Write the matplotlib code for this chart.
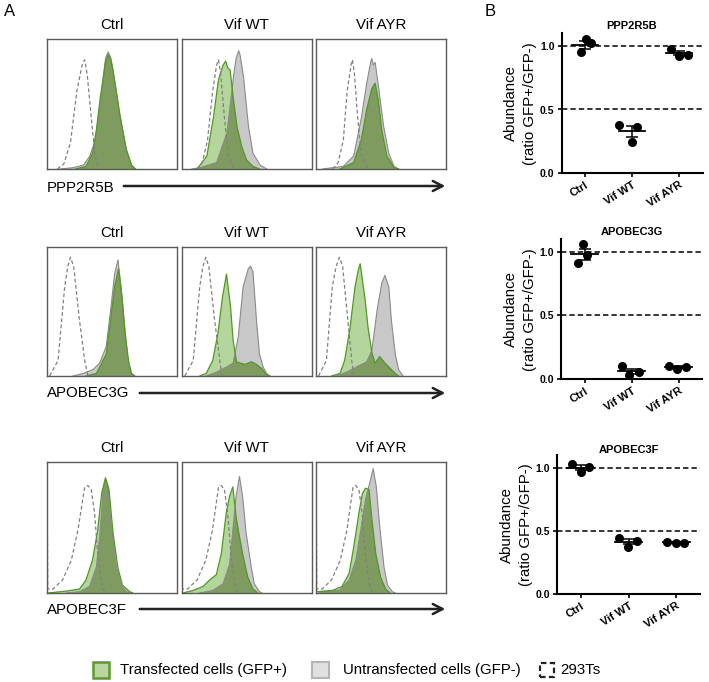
import numpy as np
import matplotlib.pyplot as plt
from matplotlib.patches import Rectangle, Polygon, FancyArrowPatch
from matplotlib.transforms import ScaledTranslation

plt.rcParams['font.family'] = ['Liberation Sans', 'DejaVu Sans']

# ---- panel A: flow histograms, (x, height) (0-100 scale)
conditions = ['Ctrl', 'Vif WT', 'Vif AYR']
proteins = ['PPP2R5B', 'APOBEC3G', 'APOBEC3F']

ppp_ctrl = {
    'dashed': ([8, 13, 18, 23, 27, 29, 31, 34, 37, 40], [0, 4, 20, 60, 80, 84, 72, 40, 10, 0]),
    'gray': ([10, 20, 28, 33, 37, 41, 43.5, 45, 47, 49, 50.5, 52, 56, 61, 65, 68],
             [0, 1, 3, 10, 22, 50, 72, 85, 90, 86, 78, 68, 42, 15, 3, 0]),
    'green': ([22, 30, 35, 38, 41, 43.5, 45, 47, 49, 50.5, 52, 56, 61, 65, 68],
              [0, 2, 12, 30, 55, 72, 82, 88, 84, 77, 68, 42, 15, 3, 0]),
}
ppp_wt = {
    'dashed': ([12, 16, 20, 24, 27, 28.5, 30, 33, 36, 40], [0, 5, 22, 60, 80, 84, 74, 40, 10, 0]),
    'gray': ([8, 14, 27, 35, 40, 42, 44, 45, 47.7, 51.5, 55, 60.5, 65.6],
             [0, 1, 5, 28, 71, 85, 91, 88, 71, 33, 12, 3, 0]),
    'green': ([12, 19.5, 24.6, 28.5, 32, 34, 35.5, 37.4, 40, 42.6, 46.4, 50, 55, 60],
              [0, 10, 40, 69, 80, 83, 78, 76, 53, 33, 17, 7, 2, 0]),
}
ppp_ayr = {
    'dashed': ([13, 17, 21, 24, 27, 28, 29.5, 32, 35, 40], [0, 5, 22, 60, 80, 84, 74, 40, 10, 0]),
    'gray': ([5, 21, 29, 35, 39, 42, 43, 44, 45.5, 48, 52, 56, 60, 63.5],
             [0, 2, 10, 40, 66, 82, 85, 80, 82, 64, 33, 12, 2, 0]),
    'green': ([18.5, 29, 35, 39, 43, 45.5, 48, 50.6, 54.5, 60, 63.5],
              [0, 5, 23, 46, 62, 66, 53, 30, 10, 1, 0]),
}
a3g_ctrl = {
    'dashed': ([2, 8.5, 13.6, 16, 18, 20.5, 25, 29, 31.5], [0, 12, 69, 85, 92, 85, 43, 12, 0]),
    'gray': ([20, 27.7, 35.4, 40.5, 45.6, 49.5, 52, 54.6, 57, 60, 62.3, 65, 67.4],
             [0, 2, 5, 10, 23, 56, 79, 90, 69, 36, 12, 2, 0]),
    'green': ([30, 38, 45.6, 49.5, 52, 55, 57.7, 60, 63, 65, 67.4],
              [0, 2, 17, 48, 69, 83, 61, 33, 10, 2, 0]),
}
a3g_wt = {
    'dashed': ([2.5, 9, 14, 16.5, 18.7, 21, 25.5, 29.5, 31], [0, 12, 69, 85, 92, 85, 43, 12, 0]),
    'gray': ([19, 27, 34.6, 39.7, 43.6, 47.4, 51.3, 53, 55, 57.7, 60, 62.8, 65.4, 68],
             [0, 3, 7, 10, 30, 69, 83, 85, 81, 43, 17, 7, 2, 0]),
    'green': ([14, 19, 24, 28, 31.5, 34.6, 37.7, 39.7, 42.3, 45, 48.7, 53.8, 57.7, 61.5, 65.4, 68],
              [0, 2, 12, 33, 61, 79, 54, 28, 11, 10, 9, 11, 9, 6, 1, 0]),
}
a3g_ayr = {
    'dashed': ([2, 8, 12.5, 15.5, 18, 20.5, 24.5, 27.5, 29], [0, 12, 69, 85, 92, 85, 43, 12, 0]),
    'gray': ([16, 23.6, 31, 39, 43, 47, 50.6, 53, 56, 58, 61, 63.5, 67],
             [0, 3, 7, 11, 20, 51, 72, 78, 69, 43, 17, 5, 0]),
    'green': ([12, 18.5, 22, 26, 30, 32.5, 34, 37.8, 40, 43, 45.5, 49, 53, 57, 61, 63.5],
              [0, 2, 12, 36, 69, 82, 87, 59, 38, 18, 10, 15, 10, 6, 2, 0]),
}
a3f_ctrl = {
    'dashed': ([0, 0.6, 4.6, 12, 18.7, 23.8, 29, 31.5, 34, 36.6, 39, 41.7, 44, 46],
               [100, 3, 3, 10, 25, 48, 81, 82, 79, 61, 30, 10, 1, 0]),
    'gray': ([15, 25, 32.7, 38, 40.5, 43, 45, 47, 49, 53, 57, 61, 65],
             [0, 1, 5, 20, 43, 76, 87, 81, 55, 22, 6, 1, 0]),
    'green': ([1, 15, 25, 30, 35, 39, 42, 45, 47.7, 50.8, 54.6, 58, 63.6, 66],
              [0, 1.5, 3, 10, 25, 48, 76, 88, 79, 46, 19, 6, 1, 0]),
}
a3f_wt = {
    'dashed': ([0, 0.6, 4.6, 12, 18.7, 23.8, 28.5, 30.6, 33, 35.5, 38, 40.5, 43, 45],
               [100, 3, 3, 10, 25, 48, 81, 82, 79, 61, 30, 10, 1, 0]),
    'gray': ([14, 24, 32, 37, 39.5, 42, 44.6, 47, 49.7, 53.6, 56, 60, 62],
             [0, 2, 7, 22, 48, 74, 89, 74, 46, 20, 7, 1, 0]),
    'green': ([1, 9, 16.6, 21.7, 26.8, 30.6, 34.4, 37, 39.5, 42, 44.6, 47, 51, 55, 58.7],
              [0, 2, 5, 10, 14, 30, 61, 74, 81, 58, 43, 30, 12, 3, 0]),
}
a3f_ayr = {
    'dashed': ([0, 0.6, 4.6, 12, 18.7, 23.8, 28.5, 30.6, 33, 35.5, 38, 40.5, 43, 45],
               [100, 3, 3, 10, 25, 48, 81, 82, 79, 61, 30, 10, 1, 0]),
    'gray': ([2.5, 18, 25.5, 30.6, 34.4, 38, 41.3, 44, 46.4, 49, 52.3, 55, 58.7, 61],
             [1, 2, 10, 25, 48, 71, 84, 95, 81, 51, 20, 6, 1, 0]),
    'green': ([1, 12.8, 20, 25.5, 29, 33, 35.7, 38, 40.8, 43, 46, 49.7, 53.6, 57],
              [1, 2, 5, 15, 35, 61, 76, 80, 79, 56, 30, 12, 3, 0]),
}
hist_rows = [[ppp_ctrl, ppp_wt, ppp_ayr],
             [a3g_ctrl, a3g_wt, a3g_ayr],
             [a3f_ctrl, a3f_wt, a3f_ayr]]

# ---- panel B: abundance ratios (GFP+/GFP-), three replicates per group
ppp2r5b_vals = [[1.055, 1.02, 0.95], [0.378, 0.362, 0.245], [0.98, 0.925, 0.93]]
apobec3g_vals = [[1.063, 0.974, 0.913], [0.10, 0.034, 0.052], [0.105, 0.08, 0.094]]
apobec3f_vals = [[1.03, 0.97, 1.01], [0.447, 0.376, 0.424], [0.416, 0.408, 0.408]]
dot_rows = [ppp2r5b_vals, apobec3g_vals, apobec3f_vals]

# horizontal scatter of the dots (style only)
jitter = [
    [[0.02, 0.13, -0.09], [-0.28, 0.1, 0.0], [-0.18, -0.01, 0.19]],
    [[-0.04, 0.06, -0.13], [-0.21, -0.05, 0.15], [-0.2, -0.03, 0.16]],
    [[-0.18, 0.0, 0.18], [-0.2, -0.02, 0.18], [-0.19, -0.01, 0.17]],
]

GREEN_FILL = '#b4d59b'
OLIVE = '#809b60'
GREEN_EDGE = '#4f9a1f'
GRAY_FILL = '#c8c8c8'
GRAY_EDGE = '#8a8a8a'
DASH_COL = '#808080'

W, H = 709, 682
fig = plt.figure(figsize=(W / 100, H / 100), dpi=100)


def px_axes(x0, y0, x1, y1):
    return fig.add_axes([x0 / W, 1 - y1 / H, (x1 - x0) / W, (y1 - y0) / H])


def poly(x, y, **kw):
    verts = [(x[0], 0)] + list(zip(x, y)) + [(x[-1], 0)]
    return Polygon(verts, closed=True, **kw)


def draw_hist(ax, panel):
    ax.set_xlim(0, 100)
    ax.set_ylim(0, 100)
    gx, gy = panel['gray']
    fx, fy = panel['green']
    dx, dy = panel['dashed']
    gray_patch = poly(gx, gy, fc=GRAY_FILL, ec='none')
    ax.add_patch(gray_patch)
    ax.add_patch(poly(fx, fy, fc=GREEN_FILL, ec='none'))
    over = poly(fx, fy, fc=OLIVE, ec='none')
    ax.add_patch(over)
    over.set_clip_path(gray_patch)
    ax.plot(gx, gy, color=GRAY_EDGE, lw=0.8)
    ax.plot(fx, fy, color=GREEN_EDGE, lw=0.9)
    ax.plot(dx, dy, color=DASH_COL, lw=0.9, ls=(0, (3, 2)))
    ax.set_xticks([])
    ax.set_yticks([])
    for s in ax.spines.values():
        s.set_color('#5a5a5a')
        s.set_linewidth(1.0)


# box geometry (pixels)
col_x = [47, 181.5, 316]
box_w = 130
row_y = [(39, 169), (247, 376), (462, 593)]
title_y = [25, 233, 448]
label_y = [188, 393, 610]
arrow_y = [186, 393, 609]
arrow_x0 = [121, 137, 137]

for r in range(3):
    for c in range(3):
        ax = px_axes(col_x[c], row_y[r][0], col_x[c] + box_w, row_y[r][1])
        draw_hist(ax, hist_rows[r][c])
        fig.text((col_x[c] + box_w / 2) / W, 1 - title_y[r] / H, conditions[c],
                 ha='center', va='center', fontsize=10.8)
    fig.text(47 / W, 1 - label_y[r] / H, proteins[r], ha='left', va='center', fontsize=10.8)
    arr = FancyArrowPatch((arrow_x0[r] / W, 1 - arrow_y[r] / H), (448 / W, 1 - arrow_y[r] / H),
                          transform=fig.transFigure, arrowstyle='->,head_length=7,head_width=3.6',
                          lw=1.8, color='#222222', mutation_scale=1)
    fig.add_artist(arr)

fig.text(10 / W, 1 - 12 / H, 'A', ha='center', va='center', fontsize=12)
fig.text(490 / W, 1 - 12 / H, 'B', ha='center', va='center', fontsize=12)

# ---- panel B axes
b_boxes = [(561.5, 33.3, 702.5, 173), (561, 239.3, 702, 379), (557, 455.4, 700, 594)]
title_pad = [3, 3, 0.5]

for r in range(3):
    x0, y0, x1, y1 = b_boxes[r]
    ax = px_axes(x0, y0, x1, y1)
    ax.set_xlim(-0.5, 2.5)
    ax.set_ylim(0, 1.1)
    for ref in (0.5, 1.0):
        ax.axhline(ref, color='k', lw=1.1, ls=(0, (3.5, 2)), zorder=1)
    for i, vals in enumerate(dot_rows[r]):
        vals = np.array(vals)
        m = vals.mean()
        sem = vals.std(ddof=1) / np.sqrt(len(vals))
        ax.plot(i + np.array(jitter[r][i]), vals, 'o', color='k', ms=5.5, zorder=3)
        ax.plot([i - 0.28, i + 0.28], [m, m], color='k', lw=1.3, zorder=4)
        ax.errorbar(i, m, yerr=sem, color='k', lw=1.1, capsize=4.5, capthick=1.1, zorder=4)
    ax.spines['top'].set_visible(False)
    ax.spines['right'].set_visible(False)
    for s in ('left', 'bottom'):
        ax.spines[s].set_linewidth(1.5)
    ax.set_yticks([0, 0.5, 1.0])
    ax.set_yticklabels(['0.0', '0.5', '1.0'], fontsize=7.5, fontweight='bold')
    ax.set_xticks([0, 1, 2])
    ax.set_xticklabels(conditions, fontsize=8, fontweight='bold', rotation=32,
                       ha='right', va='top', rotation_mode='anchor')
    for lab in ax.get_xticklabels():
        lab.set_transform(lab.get_transform() + ScaledTranslation(6 / 72, -1 / 72, fig.dpi_scale_trans))
    ax.tick_params(length=3, width=1.2, pad=2)
    ax.set_title(proteins[r], fontsize=8, fontweight='bold', pad=title_pad[r])
    ax.set_ylabel('Abundance\n(ratio GFP+/GFP-)', fontsize=10.8, labelpad=2, linespacing=1.45)

# ---- legend
leg_y = 670
fig.add_artist(Rectangle((93 / W, 1 - (leg_y + 8) / H), 16 / W, 16 / H, transform=fig.transFigure,
                         fc='#b9d6a0', ec='#5a9a2e', lw=1.8))
fig.text(120 / W, 1 - leg_y / H, 'Transfected cells (GFP+)', va='center', fontsize=10.8)
fig.add_artist(Rectangle((312 / W, 1 - (leg_y + 8) / H), 17 / W, 16 / H, transform=fig.transFigure,
                         fc='#e0e0e0', ec='#b5b5b5', lw=1.5))
fig.text(343 / W, 1 - leg_y / H, 'Untransfected cells (GFP-)', va='center', fontsize=10.8)
fig.add_artist(Rectangle((540 / W, 1 - (leg_y + 7) / H), 14 / W, 14 / H, transform=fig.transFigure,
                         fc='white', ec='#222222', lw=1.6, ls=(0, (2.5, 1.5))))
fig.text(560 / W, 1 - leg_y / H, '293Ts', va='center', fontsize=10.8)

fig.savefig('out.png', dpi=100)
